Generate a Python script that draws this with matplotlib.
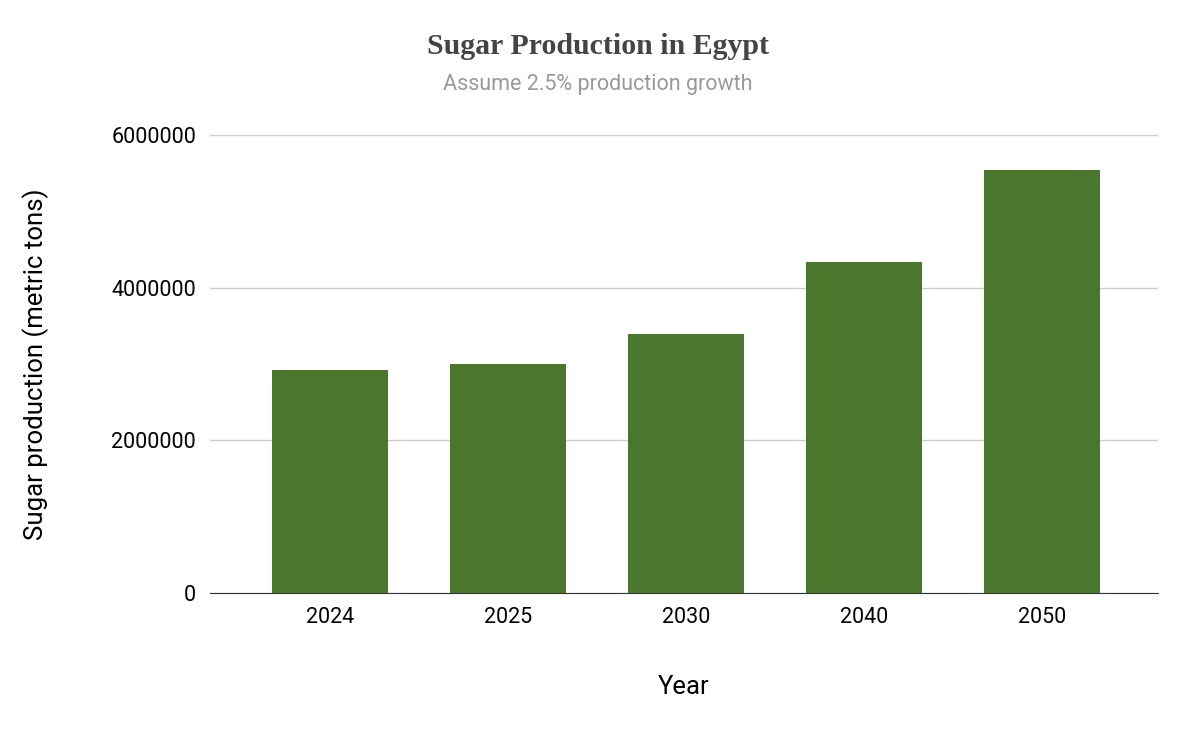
import matplotlib
matplotlib.use("Agg")
import matplotlib.pyplot as plt

years = ["2024", "2025", "2030", "2040", "2050"]
production = [2920000, 3000000, 3390000, 4340000, 5540000]
yticks = [0, 2000000, 4000000, 6000000]

fig = plt.figure(figsize=(11.96, 7.32), dpi=100)
ax = fig.add_axes([0.1756, 0.19, 0.7926, 0.6258])
ax.bar(range(len(years)), production, width=0.65, color="#4a772c", zorder=3)
ax.set_xlim(-0.674, 4.652)
ax.set_ylim(0, 6000000)
ax.set_xticks(range(len(years)))
ax.set_xticklabels(years, fontsize=15.5, family="Roboto")
ax.set_yticks(yticks)
ax.set_yticklabels([str(v) for v in yticks], fontsize=15.5, family="Roboto")
ax.tick_params(length=0, pad=10)
ax.grid(axis="y", color="#cccccc", linewidth=1, zorder=0)
for s in ["top", "right", "left"]:
    ax.spines[s].set_visible(False)
ax.spines["bottom"].set_color("#333333")
ax.set_xlabel("Year", fontsize=18.5, family="Roboto", labelpad=34)
ax.set_ylabel("Sugar production (metric tons)", fontsize=18.5, family="Roboto")
ax.yaxis.set_label_coords(-0.17, 0.5)
fig.text(0.5, 0.937, "Sugar Production in Egypt", ha="center", va="center",
         fontsize=21.5, fontweight="bold", family="Liberation Serif", color="#444444")
fig.text(0.5, 0.884, "Assume 2.5% production growth", ha="center", va="center",
         fontsize=15.5, family="Roboto", color="#999999")
fig.savefig("out.png", dpi=100)
